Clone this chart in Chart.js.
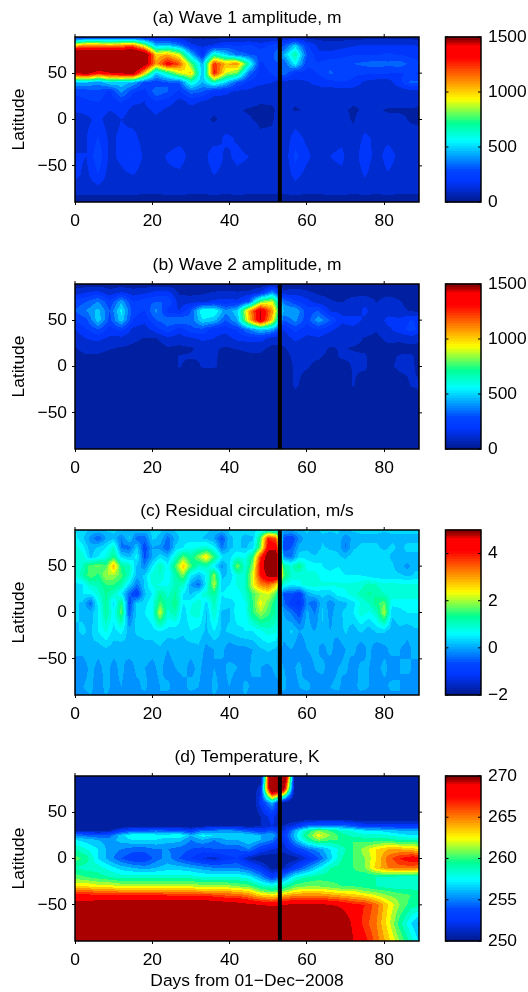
<!DOCTYPE html>
<html>
<head>
<meta charset="utf-8">
<script src="https://cdn.jsdelivr.net/npm/chart.js@4"></script>
<style>
html, body { margin: 0; padding: 0; background: #fff; }
#page { position: relative; width: 528px; height: 992px; overflow: hidden; }
canvas { position: absolute; }
</style>
</head>
<body>
<div id="page"></div>
<script>
// columns (days) and rows (latitude) the values were read at
const days3 = [0,3,6,9,12,15,18,21,24,27,30,33,36,39,42,45,48,51,54,57,60,63,66,69,72,75,78,81,84,87,90];
const days2 = [0,2,4,6,8,10,12,14,16,18,20,22,24,26,28,30,32,34,36,38,40,42,44,46,48,50,52,54,56,58,60,62,64,66,68,70,72,74,76,78,80,82,84,86,88];
const lats = [89,80,70,60,50,40,30,20,10,0,-20,-40,-60,-80,-89];
const latsTemp = [89,75,60,45,35,30,25,20,10,0,-10,-20,-30,-35,-40,-50,-70,-89];
const xTicks = [0,20,40,60,80];
const yTicks = [-50,0,50];
const markerDay = [53,53];
const markerLat = [-89,89];

const wave1 = [
[150,200,200,200,200,200,160,130,130,90,50,50,50,50,50,50,50,60,60,50,40,40,40,40,40,40,40,40,40,40,40],
[1000,1100,1100,1050,1100,1150,850,450,480,380,180,130,160,230,210,240,190,240,280,480,230,130,110,120,140,160,160,160,160,160,130],
[1800,1800,1800,1800,1800,1800,1650,1000,1050,900,480,190,650,500,350,300,280,280,450,700,300,170,170,200,220,220,220,240,220,200,170],
[1800,1800,1800,1800,1800,1800,1550,1080,1350,1200,800,450,1250,1050,1100,650,200,280,300,560,240,240,280,280,300,320,340,320,340,280,230],
[1400,1500,1300,1400,1450,1500,1000,480,680,900,1000,450,1300,900,800,350,180,230,360,190,200,230,310,280,240,240,230,230,220,230,210],
[450,460,400,520,500,450,280,250,300,310,620,450,650,500,300,200,170,150,100,130,140,180,200,220,210,130,110,110,200,320,300],
[240,250,280,200,400,240,190,360,300,200,340,300,180,170,130,130,100,110,110,100,110,110,100,110,100,90,90,100,100,110,100],
[200,220,230,180,240,170,150,230,190,130,170,150,110,120,100,90,80,80,90,80,100,90,100,90,80,80,100,90,90,90,80],
[160,170,200,150,180,130,130,170,130,110,130,110,80,90,80,70,65,70,90,70,80,80,90,80,70,80,80,70,70,70,70],
[110,130,170,110,150,120,100,130,100,90,100,85,70,90,85,80,65,70,110,110,85,110,90,90,70,100,85,90,85,70,70],
[110,150,230,130,170,180,110,110,110,120,130,90,100,170,140,110,85,85,90,190,130,120,120,130,90,170,130,120,100,90,85],
[160,150,280,130,170,230,130,120,160,190,120,100,220,130,170,150,90,85,85,250,170,110,150,170,90,220,100,200,120,100,90],
[170,130,220,110,130,150,110,110,130,130,100,90,150,110,130,120,85,85,85,180,120,90,120,130,85,160,85,140,90,85,85],
[85,85,90,85,85,85,80,80,85,85,80,80,85,80,85,80,80,80,80,85,80,80,85,85,80,85,80,85,80,80,80],
[10,10,10,10,10,10,10,10,10,10,10,10,10,10,10,10,10,10,10,10,10,10,10,10,10,10,10,10,10,10,10]
];

const wave2 = [
[40,30,30,30,30,30,30,30,30,20,20,20,20,20,20,20,20,30,30,20,20,20,20,20,20,20,20,20,20,20,20],
[100,150,170,100,150,110,130,170,180,60,50,60,80,90,80,90,150,400,90,120,90,60,60,50,50,40,40,40,40,40,30],
[250,300,380,240,430,220,270,300,300,110,120,130,170,170,170,300,800,900,350,240,180,110,80,70,100,130,70,120,80,50,40],
[300,380,480,300,550,260,220,400,200,150,300,600,600,400,500,1050,1450,1100,450,450,260,300,140,130,100,170,100,110,90,70,50],
[230,280,500,270,500,220,170,300,350,380,330,520,480,300,450,1000,1450,1000,300,400,250,430,300,170,200,130,90,180,170,230,200],
[150,220,300,190,250,130,110,190,280,180,280,280,180,180,230,380,500,450,150,250,180,230,170,110,120,100,80,130,190,260,170],
[100,150,170,130,120,90,70,70,120,110,130,170,150,110,170,180,190,100,100,170,130,130,100,100,100,70,60,90,90,100,80],
[70,110,100,80,70,60,50,40,70,60,70,90,80,70,80,90,90,60,70,100,90,100,70,80,70,60,50,60,50,60,60],
[40,60,60,50,40,40,30,30,40,80,80,80,85,50,50,60,60,50,50,90,85,80,60,80,85,85,40,50,85,85,40],
[20,30,30,30,20,20,20,20,30,80,50,80,80,60,40,60,40,50,40,85,80,60,40,50,80,85,30,60,90,85,50],
[10,10,10,10,10,10,10,10,10,10,10,10,10,10,10,10,10,10,30,85,50,30,20,30,80,40,20,20,40,80,80],
[10,10,10,10,10,10,10,10,10,10,10,10,10,10,10,10,10,10,10,40,20,10,10,10,40,10,10,10,10,30,80],
[10,10,10,10,10,10,10,10,10,10,10,10,10,10,10,10,10,10,10,10,10,10,10,10,10,10,10,10,10,10,20],
[10,10,10,10,10,10,10,10,10,10,10,10,10,10,10,10,10,10,10,10,10,10,10,10,10,10,10,10,10,10,10],
[5,5,5,5,5,5,5,5,5,5,5,5,5,5,5,5,5,5,5,5,5,5,5,5,5,5,5,5,5,5,5]
];

const residual = [
[.5,.4,.2,.2,.3,.3,.3,.2,.2,.2,.3,.3,.2,.3,.4,.4,.3,.3,.2,.2,.3,.3,.3,.4,.5,.6,.5,.1,.1,.2,.3,.2,.3,.3,.3,.2,.3,.3,.3,.3,.3,.3,.3,.3,.3],
[.6,.3,-.1,-.5,0,.2,-.3,.3,-.4,-.4,.3,.2,-.4,.1,.4,.4,.3,.2,0,-.6,.2,.3,.2,.2,1.6,4,3.5,-.6,-.8,-.2,.2,0,.2,.1,.2,-.2,.1,.2,.2,.2,.1,.2,.2,.2,.2],
[.9,.6,.1,.3,.5,1,-.3,-.4,.3,-.7,0,-.1,-.5,.3,.5,.7,.8,.9,.6,-.3,.2,.3,.2,.4,1.8,4.4,4.5,-.7,-.5,.1,.2,0,.3,.2,.2,-.3,.2,.3,.3,.3,.2,.3,.2,.3,.3],
[1,.9,.2,.5,.8,1.4,.4,.2,.6,-.6,0,.4,.2,.9,1.7,1.2,1.9,2.6,1.5,.5,.4,.8,.7,1.5,3.8,5.5,5.5,-.2,-.3,.4,.4,.3,.5,.4,.3,.2,.4,.4,.3,.3,.4,.2,.2,.2,.2],
[.8,1,1.7,1.8,1.6,2.9,1.3,1.1,.2,-.2,.5,1.1,.6,1.6,2.8,1.6,1,1.1,.5,-.1,.4,1.9,.8,1.9,4.3,5.5,5.5,1.3,.9,1.4,.7,.6,.5,.4,.5,.4,.5,.3,.4,.4,.3,.3,.1,-.1,.2],
[.7,1.2,1.7,1.4,2,2,1.6,1,.1,.3,.9,1,.5,1.2,1.8,.5,.2,.6,2,.2,.3,.8,1,2.3,4,5,5.3,1.6,1,.8,.8,.9,.6,.6,.6,.5,.5,.5,.4,.3,.3,.3,.3,.2,.3],
[.4,.5,1,1.1,1.5,1.5,1.2,.4,-.3,.3,.8,.7,.7,1.1,1,0,-.4,.6,2.1,.3,.5,.8,1,2.3,3.2,3.4,2.8,.8,.5,.7,.9,.9,.8,.8,.8,.8,.8,.9,1.1,1,.8,.9,.8,.8,.8],
[.3,.5,.5,.9,1.3,1,.5,-.4,-.9,.2,.5,1.3,.9,1.3,.5,.2,.6,1,1.3,.5,.7,.6,.9,1.6,2,2.3,1.6,-.6,-.6,-.9,0,.3,.3,.3,.6,.7,.9,1.1,1.3,1.2,1,.9,.9,.8,.8],
[.3,.2,-.4,.6,1.3,.4,1.5,-.7,.3,.4,.7,1.6,1.1,1.4,.5,.7,.9,.4,1.1,.4,.3,.6,.7,1.5,2.4,1.8,1.2,-.4,-.9,-1.1,-.2,-.5,.2,-.2,.1,.2,.4,.8,1,1.4,1.7,.6,.6,.7,.7],
[.3,.2,.1,.5,1.3,.6,1.7,-.5,.4,.5,.7,2.2,.9,1.2,.3,.8,.9,.2,1,.2,.2,.7,.6,1.5,2,1.6,1.2,0,-.3,-.7,.1,-.3,.3,-.1,.2,.3,.5,.9,.7,1,2.1,.3,.4,.5,.5],
[.2,.3,.2,.5,.8,.4,.6,.1,.3,.3,.4,.5,.4,.3,.3,.5,.4,.2,.5,.2,.3,.4,.5,.5,.7,.9,.8,.1,.3,0,.1,0,.2,0,.1,.3,.1,.3,.1,.3,.3,.1,.2,.1,.2],
[0,.1,.2,.1,.2,.1,0,.2,.1,.2,.1,.2,0,.2,.1,.1,.2,-.1,0,.1,-.2,-.1,-.1,0,.2,.3,.2,-.1,0,-.2,0,.1,-.1,.1,-.2,0,.1,-.2,.1,-.2,-.1,.1,0,-.1,.1],
[0,-.2,.1,-.1,.1,-.1,.1,-.2,.1,0,-.1,.1,-.2,0,.1,-.1,.1,-.2,0,-.1,.1,0,-.2,.1,0,-.1,.1,0,-.1,.1,-.2,0,.1,-.2,0,.1,-.2,.1,0,-.1,.1,-.2,0,.1,-.1],
[-.2,0,.1,-.2,.1,-.1,0,-.2,-.1,.1,-.2,0,.1,-.2,-.1,.1,0,-.2,.1,-.1,0,-.2,.1,-.1,0,-.2,-.1,.1,-.2,0,.1,-.1,-.2,0,.1,-.2,-.1,.1,0,-.2,-.1,.1,0,-.2,0],
[-.1,-.1,0,-.1,0,-.1,-.1,-.1,0,-.1,-.1,0,-.1,-.1,0,-.1,-.1,-.1,0,-.1,-.1,-.1,0,-.1,-.1,0,-.1,-.1,0,-.1,-.1,-.1,0,-.1,-.1,0,-.1,-.1,-.1,0,-.1,-.1,0,-.1,-.1]
];

const temperature = [
[249,249,249,249,249,249,249,249,249,249,249,249,249,249,249,249,249,276,276,249,249,249,249,249,249,249,249,249,249,249,249],
[249,249,249,249,249,249,249,249,249,249,249,249,249,249,249,249,252,274,270,249,249,249,249,249,249,249,249,249,249,249,249],
[249,249,249,249,249,249,249,249,249,249,249,249,249,249,249,249,252.5,256,250,249,249,249,249,249,249,249,249,249,249,249,249],
[249,249,249,249,249,249,249,249,249,249,249,249,249,249,249,249,251,252.5,250,249,249,249,249,249,249,249,249,249,249,249,249],
[249,249,249,249,250,250.5,250,250,250,250,250,250.5,251,250.5,251,250.5,251,252,251,252.5,254.5,255,255,255,254,253,253,253,253,253,253],
[251,251,250.5,251,253,254,254,254.5,254,254,253,255,255,255.5,255,254,253,254,252,256,259,261,260,258.5,258,257,257,256.5,256,256,256],
[255,254.5,254,254.5,256.5,258,258,257.5,257.5,258,256,257.5,257,256.5,257,257,256,256,253,256.5,260,262.5,261,259.5,258.5,258.5,258.5,258,257.5,257,257],
[257,256.5,256,255.5,256.5,257,257,257,256.5,256.5,255,256,255,256,256,257,256,255,252,256,259,261,260,260,260,259.5,259.5,259.5,259,259,258.5],
[259,258,257,255.5,255,254.5,254.5,255,255,254.5,254,253.5,254,254,254,255,253,252,251.5,253,254.5,255.5,257,258.5,260,261.5,263,264,264,263.5,263],
[260.5,259.5,257,255.5,254,253,253,254.5,255.5,254,253,252,251.5,252.5,253,251,250,250,250,250.5,252,254,256.5,259,260,261,263,265.5,267,268,268],
[259,258.5,258.5,257.5,256.5,256,255.5,256,256.5,256.5,256,255.5,255,255,255,254,252.5,250.5,251,253,255,257,259,259.5,260,261,263.5,265,265.5,265.5,265],
[260.5,260,259.5,259,258.5,258.5,258.5,258.5,258.5,258.5,258.5,258,258,258,258,257.5,255.5,253,255,258,259,259.5,259.5,259.5,259.5,259,259,259,258.5,258.5,258],
[263,263,262.5,262.5,262,262,262,262,262,262,262,261.5,261.5,261.5,261,260.5,259,258.5,259,260.5,261,261,260.5,260,260,259.5,259,258.5,258,258,258],
[265.5,265.5,265,265,264.5,264.5,264.5,264.5,264.5,264.5,264.5,264,264,264,263.5,263,261,260,261,262.5,263,263,262.5,262,262,261,260.5,260,259.5,259.5,259],
[267.5,267.5,267.5,267.5,267.5,267.5,267.5,267.5,267,267,267,267,266.5,266,266,265,263.5,263,264,265,265,265,264.5,264,263.5,263,262,261,260.5,260,260],
[270,270,270.5,271,271,271,271,271,271,271,271,271,271,270.5,270,269.5,269,268.5,269,269.5,269.5,269.5,269,268.5,267.5,267,265.5,263,261,259.5,259],
[275,275,275,275,275,275,275,275,275,275,275,275,275,275,275,275,275,275,275,275,275,275,275,271,268.5,266.5,265,262.5,259.5,257,255],
[275,275,275,275,275,275,275,275,275,275,275,275,275,275,275,275,275,275,275,275,275,275,275,272,269,267.5,265.5,263.5,261,258.5,256]
];

const FONT = "'Liberation Sans', Arial, sans-serif";
const FONT_SIZE = 17.4;

// jet, with the ends bent to look like the colours in the printed figure
function jet(f) {
    const clamp = v => Math.max(0, Math.min(1, v));
    let r = f < 0.625 ? clamp((f - 0.48) * 6.9) : clamp(1.5 - Math.abs(4 * f - 3));
    if (f >= 0.625 && f < 0.95) r = 1;
    if (f >= 0.95) r = Math.max(0.55, 1 - (f - 0.95) * 13.2);
    let g = clamp(1.5 - Math.abs(4 * f - 2));
    if (f < 0.3) g = Math.max(g, 0.1 + 0.9 * f);
    let b = clamp(1.5 - Math.abs(4 * f - 1));
    if (f < 0.175) b = clamp(0.54 + 3.6 * f);
    return [r, g, b].map(v => Math.round(255 * v));
}

function bandColor(v, min, max, bands) {
    let i = Math.floor((v - min) / (max - min) * bands);
    i = Math.max(0, Math.min(bands - 1, i));
    return jet((i + 0.5) / bands);
}

// find the two neighbouring entries of an axis array and the weight between them
function locate(arr, v) {
    const desc = arr[0] > arr[arr.length - 1];
    for (let i = 0; i < arr.length - 1; i++) {
        const a = arr[i], b = arr[i + 1];
        if (desc ? (v <= a && v >= b) : (v >= a && v <= b)) return [i, (v - a) / (b - a)];
    }
    return (desc ? v > arr[0] : v < arr[0]) ? [0, 0] : [arr.length - 2, 1];
}

// filled contour of the typed grid, placed with the chart's own scales
function contourPlugin(p) {
    return {
        id: "contour",
        beforeDatasetsDraw(chart) {
            const { ctx, chartArea: a, scales } = chart;
            const x0 = Math.round(a.left), y0 = Math.round(a.top);
            const w = Math.round(a.right) - x0, h = Math.round(a.bottom) - y0;
            const img = ctx.createImageData(w, h);
            const cols = [];
            for (let px = 0; px < w; px++) cols.push(locate(p.days, scales.x.getValueForPixel(x0 + px + 0.5)));
            for (let py = 0; py < h; py++) {
                const [r, tr] = locate(p.lats, scales.y.getValueForPixel(y0 + py + 0.5));
                for (let px = 0; px < w; px++) {
                    const [c, tc] = cols[px];
                    const v = (p.grid[r][c] * (1 - tc) + p.grid[r][c + 1] * tc) * (1 - tr)
                            + (p.grid[r + 1][c] * (1 - tc) + p.grid[r + 1][c + 1] * tc) * tr;
                    const rgb = bandColor(v, p.min, p.max, p.bands);
                    const k = (py * w + px) * 4;
                    img.data[k] = rgb[0];
                    img.data[k + 1] = rgb[1];
                    img.data[k + 2] = rgb[2];
                    img.data[k + 3] = 255;
                }
            }
            ctx.putImageData(img, x0, y0);
        },
        afterDatasetsDraw(chart) {
            const { ctx, chartArea: a, scales } = chart;
            ctx.save();
            ctx.strokeStyle = "#000";
            ctx.lineWidth = 1.5;
            ctx.strokeRect(a.left, a.top, a.right - a.left, a.bottom - a.top);
            // matlab box: ticks repeat on top and right
            ctx.lineWidth = 1;
            ctx.beginPath();
            xTicks.forEach(t => {
                const x = scales.x.getPixelForValue(t);
                ctx.moveTo(x, a.top);
                ctx.lineTo(x, a.top - 3);
            });
            yTicks.forEach(t => {
                const y = scales.y.getPixelForValue(t);
                ctx.moveTo(a.right, y);
                ctx.lineTo(a.right + 3, y);
            });
            ctx.stroke();
            ctx.restore();
        }
    };
}

function colorbarPlugin(p) {
    return {
        id: "colorbar",
        beforeDatasetsDraw(chart) {
            const { ctx, chartArea: a, scales } = chart;
            const n = 64;
            for (let i = 0; i < n; i++) {
                const lo = p.min + (p.max - p.min) * i / n;
                const hi = p.min + (p.max - p.min) * (i + 1) / n;
                const yTop = scales.y.getPixelForValue(hi), yBot = scales.y.getPixelForValue(lo);
                const rgb = jet((i + 0.5) / n);
                ctx.fillStyle = `rgb(${rgb.join(",")})`;
                ctx.fillRect(a.left, yTop - 0.5, a.right - a.left, yBot - yTop + 1);
            }
        },
        afterDatasetsDraw(chart) {
            const { ctx, chartArea: a, scales } = chart;
            ctx.save();
            ctx.strokeStyle = "#000";
            ctx.lineWidth = 1.5;
            ctx.strokeRect(a.left, a.top, a.right - a.left, a.bottom - a.top);
            ctx.lineWidth = 1;
            ctx.beginPath();
            p.ticks.forEach(t => {
                const y = scales.y.getPixelForValue(t);
                ctx.moveTo(a.left, y);
                ctx.lineTo(a.left + 3, y);
                ctx.moveTo(a.right, y);
                ctx.lineTo(a.right - 3, y);
            });
            ctx.stroke();
            ctx.restore();
        }
    };
}

function addCanvas(left, top, width, height) {
    const c = document.createElement("canvas");
    c.width = width;
    c.height = height;
    c.style.left = left + "px";
    c.style.top = top + "px";
    c.style.width = width + "px";
    c.style.height = height + "px";
    document.getElementById("page").appendChild(c);
    return c.getContext("2d");
}

const TOP_SPACE = 30, PLOT_H = 165;

function drawPanel(p) {
    const bottom = p.xLabel ? 51 : 32;
    const ctx = addCanvas(0, p.top - TOP_SPACE, 430, TOP_SPACE + PLOT_H + bottom);
    new Chart(ctx, {
        type: "scatter",
        data: {
            datasets: [{
                data: markerDay.map((d, i) => ({ x: d, y: markerLat[i] })),
                showLine: true,
                borderColor: "#000",
                borderWidth: 4,
                pointRadius: 0
            }]
        },
        options: {
            responsive: false,
            animation: false,
            layout: { padding: { right: 11 } },
            plugins: {
                legend: { display: false },
                tooltip: { enabled: false },
                title: {
                    display: true,
                    fullSize: false,
                    text: p.title,
                    color: "#000",
                    font: { family: FONT, size: FONT_SIZE, weight: "normal", lineHeight: 1 },
                    padding: { top: 3, bottom: 9.6 }
                }
            },
            scales: {
                x: {
                    type: "linear",
                    min: 0,
                    max: 89,
                    afterBuildTicks: s => { s.ticks = xTicks.map(v => ({ value: v })); },
                    afterFit: s => { s.height = bottom; },
                    grid: { drawOnChartArea: false, tickLength: 3, tickColor: "#000" },
                    border: { display: false },
                    ticks: { color: "#000", font: { family: FONT, size: FONT_SIZE }, padding: 6, maxRotation: 0, autoSkip: false },
                    title: {
                        display: !!p.xLabel,
                        text: p.xLabel,
                        color: "#000",
                        font: { family: FONT, size: FONT_SIZE },
                        padding: { top: 0, bottom: 0 }
                    }
                },
                y: {
                    type: "linear",
                    min: -89,
                    max: 89,
                    afterBuildTicks: s => { s.ticks = yTicks.map(v => ({ value: v })); },
                    afterFit: s => { s.width = 75; },
                    grid: { drawOnChartArea: false, tickLength: 3, tickColor: "#000" },
                    border: { display: false },
                    ticks: {
                        color: "#000",
                        font: { family: FONT, size: FONT_SIZE },
                        padding: 5,
                        autoSkip: false,
                        callback: v => String(v).replace("-", "\u2212")
                    },
                    title: {
                        display: true,
                        text: "Latitude",
                        color: "#000",
                        font: { family: FONT, size: FONT_SIZE },
                        padding: { top: 8.5, bottom: 0 }
                    }
                }
            }
        },
        plugins: [contourPlugin(p)]
    });

    const barCtx = addCanvas(430, p.top - TOP_SPACE, 98, TOP_SPACE + PLOT_H + bottom);
    new Chart(barCtx, {
        type: "scatter",
        data: { datasets: [{ data: [], pointRadius: 0 }] },
        options: {
            responsive: false,
            animation: false,
            layout: { padding: { left: 15.5, top: TOP_SPACE, bottom: bottom } },
            plugins: { legend: { display: false }, tooltip: { enabled: false } },
            scales: {
                x: { display: false, min: 0, max: 1 },
                y: {
                    position: "right",
                    min: p.min,
                    max: p.max,
                    afterBuildTicks: s => { s.ticks = p.ticks.map(v => ({ value: v })); },
                    afterFit: s => { s.width = 47; },
                    grid: { display: false, drawTicks: false },
                    border: { display: false },
                    ticks: {
                        color: "#000",
                        font: { family: FONT, size: FONT_SIZE },
                        padding: 7,
                        autoSkip: false,
                        callback: v => String(v).replace("-", "\u2212")
                    }
                }
            }
        },
        plugins: [colorbarPlugin(p)]
    });
}

drawPanel({ top: 37, title: "(a) Wave 1 amplitude, m", days: days3, lats: lats, grid: wave1, min: 0, max: 1500, bands: 20, ticks: [0,500,1000,1500] });
drawPanel({ top: 284, title: "(b) Wave 2 amplitude, m", days: days3, lats: lats, grid: wave2, min: 0, max: 1500, bands: 20, ticks: [0,500,1000,1500] });
drawPanel({ top: 530, title: "(c) Residual circulation, m/s", days: days2, lats: lats, grid: residual, min: -2, max: 5, bands: 28, ticks: [-2,0,2,4] });
drawPanel({ top: 776, title: "(d) Temperature, K", days: days3, lats: latsTemp, grid: temperature, min: 250, max: 270, bands: 20, ticks: [250,255,260,265,270], xLabel: "Days from 01\u2212Dec\u22122008" });
</script>
</body>
</html>
